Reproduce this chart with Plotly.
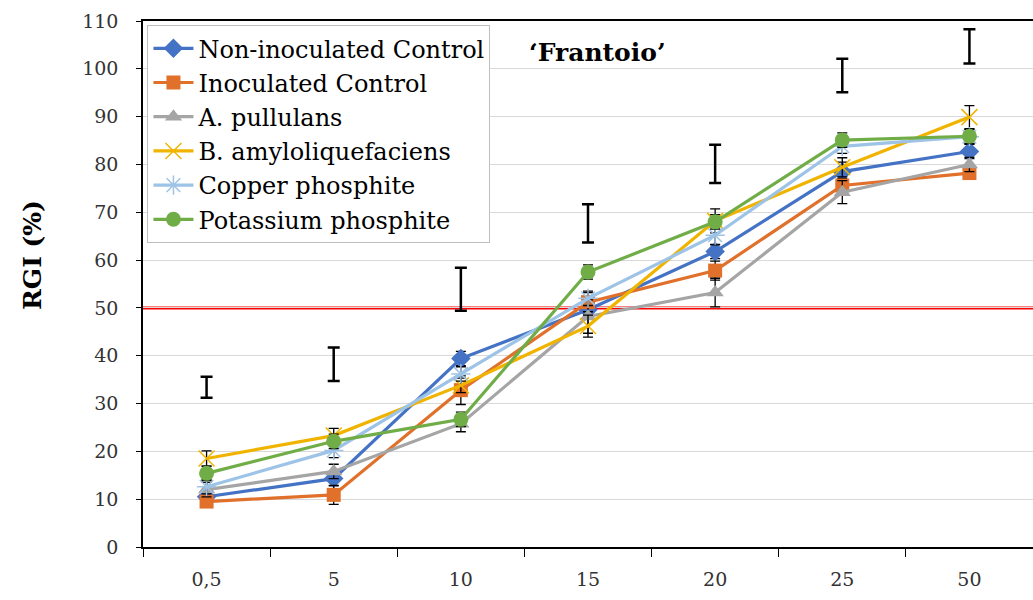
import plotly.graph_objects as go

# Concentration classes on the x axis
categories = ["0,5", "5", "10", "15", "20", "25", "50"]

# RGI (%) per treatment
non_inoculated = [10.5, 14.3, 39.4, 49.6, 61.8, 78.5, 82.7]
inoculated = [9.5, 10.9, 32.8, 51.2, 57.8, 75.6, 78.2]
a_pullulans = [12.0, 15.8, 25.8, 48.2, 53.2, 74.2, 80.0]
b_amylo = [18.5, 23.3, 33.8, 46.2, 68.2, 79.4, 89.9]
copper_phosphite = [12.6, 20.2, 36.2, 52.0, 65.2, 83.8, 85.8]
potassium_phosphite = [15.4, 22.1, 26.7, 57.5, 68.0, 85.1, 85.9]

# Standard errors per treatment
non_inoculated_err = [1.5, 1.5, 1.5, 1.5, 1.5, 2.0, 1.5]
inoculated_err = [1.0, 2.0, 3.0, 2.0, 2.0, 1.5, 1.0]
a_pullulans_err = [1.5, 1.5, 1.7, 3.5, 3.0, 2.4, 1.5]
b_amylo_err = [1.6, 1.5, 1.5, 2.3, 2.5, 2.0, 2.4]
copper_phosphite_err = [1.5, 1.5, 1.5, 1.5, 2.0, 1.5, 1.5]
potassium_phosphite_err = [1.5, 1.5, 1.5, 1.5, 1.5, 1.5, 1.5]

# Floating LSD bars: centre and half-length
lsd_center = [33.4, 38.2, 53.9, 67.7, 80.1, 98.6, 104.7]
lsd_half = [2.2, 3.5, 4.5, 4.0, 4.0, 3.5, 3.6]

threshold = 50

series = [
    ("Non-inoculated Control", non_inoculated, non_inoculated_err, "#4472C4",
     dict(symbol="diamond", size=15)),
    ("Inoculated Control", inoculated, inoculated_err, "#E0702A",
     dict(symbol="square", size=14)),
    ("A. pullulans", a_pullulans, a_pullulans_err, "#A5A5A5",
     dict(symbol="triangle-up", size=15)),
    ("B. amyloliquefaciens", b_amylo, b_amylo_err, "#F0B400",
     dict(symbol="x-thin-open", size=16, line=dict(width=1.5, color="#F0B400"))),
    ("Copper phosphite", copper_phosphite, copper_phosphite_err, "#9DC3E6",
     dict(symbol="asterisk-open", size=16, line=dict(width=1.5, color="#9DC3E6"))),
    ("Potassium phosphite", potassium_phosphite, potassium_phosphite_err, "#70AD47",
     dict(symbol="circle", size=15)),
]

serif = "DejaVu Serif"

fig = go.Figure()

for name, vals, errs, color, marker in series:
    fig.add_trace(go.Scatter(
        x=categories, y=vals, name=name, mode="lines+markers",
        line=dict(color=color, width=3.2),
        marker=dict(color=color, **marker),
        error_y=dict(type="data", array=errs, color="black", thickness=1.3, width=5),
    ))

fig.add_trace(go.Scatter(
    x=categories, y=lsd_center, mode="markers", showlegend=False,
    marker=dict(size=1, color="rgba(0,0,0,0)"),
    error_y=dict(type="data", array=lsd_half, color="black", thickness=2.5, width=6),
    hoverinfo="skip",
))

fig.add_shape(type="line", xref="paper", x0=0, x1=1, yref="y", y0=threshold, y1=threshold,
              line=dict(color="#FF0000", width=3), layer="between")

fig.add_annotation(text="<b>‘Frantoio’</b>", xref="paper", yref="paper",
                   x=(597 - 143) / 890, y=(547 - 52) / 526,
                   xanchor="center", yanchor="middle", showarrow=False,
                   font=dict(family=serif, size=25, color="black"))

fig.add_annotation(text="<b>RGI (%)</b>", xref="paper", yref="paper",
                   x=(32 - 143) / 890, y=(547 - 255) / 526,
                   xanchor="center", yanchor="middle", textangle=-90, showarrow=False,
                   font=dict(family=serif, size=25, color="black"))

fig.update_layout(
    width=1033, height=600,
    margin=dict(l=143, r=0, t=21, b=53),
    paper_bgcolor="white", plot_bgcolor="white",
    font=dict(family=serif, size=19, color="#333333"),
    showlegend=True,
    legend=dict(x=0.005, y=0.992, xanchor="left", yanchor="top",
                bgcolor="white", bordercolor="#BFBFBF", borderwidth=1,
                font=dict(family=serif, size=24, color="black"),
                tracegroupgap=0, itemwidth=40),
)

fig.update_xaxes(
    type="category", range=[-0.5, 6.5],
    showline=True, linecolor="black", linewidth=2, mirror=True,
    ticks="outside", tickson="boundaries", ticklen=8, tickcolor="black", tickwidth=1,
    showgrid=False, ticklabelstandoff=14,
    tickfont=dict(family=serif, size=19, color="#333333"),
)
fig.update_yaxes(
    range=[0, 110], dtick=10,
    showline=True, linecolor="black", linewidth=1.5,
    ticks="outside", ticklen=5, tickcolor="black", tickwidth=1,
    showgrid=True, gridcolor="#D9D9D9", gridwidth=1.2, zeroline=False,
    ticklabelstandoff=14,
    tickfont=dict(family=serif, size=19, color="#333333"),
)

fig.write_html("out.html")
